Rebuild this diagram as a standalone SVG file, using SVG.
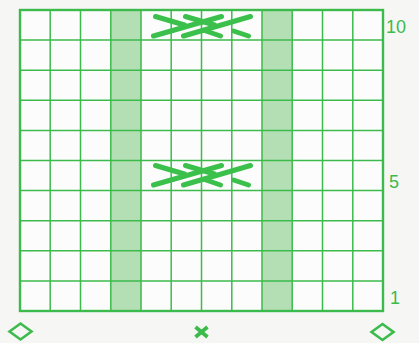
<svg xmlns="http://www.w3.org/2000/svg" width="419" height="343" viewBox="0 0 419 343">
<style>
.g{stroke:#3cbb4c;fill:none}
.in{stroke-width:1.5}
.sh{fill:#b4dfb4;stroke:none}
.cab{stroke:#3cc04c;stroke-width:5;stroke-linecap:round;fill:none}
.lbl{font-family:"Liberation Sans",Arial,sans-serif;font-size:18px;fill:#3cbb4c}
.sym{stroke:#3cbb4c;fill:none;stroke-width:2.6}
</style>
<defs>
<g id="cable">
<line class="cab" x1="-48" y1="9.5" x2="20" y2="-10"/>
<line class="cab" x1="-18" y1="9.5" x2="49" y2="-10"/>
<line class="cab" x1="-46" y1="-10" x2="-17" y2="-1.5"/>
<line class="cab" x1="-16" y1="-10" x2="13" y2="-1.5"/>
<line class="cab" x1="3" y1="4" x2="19" y2="9.5"/>
<line class="cab" x1="32" y1="4.5" x2="47" y2="9.5"/>
</g>
</defs>
<rect width="419" height="343" fill="#f6f7f5"/>
<g id="grid">
<rect x="20" y="10" width="363" height="301" fill="#fbfcfb"/>
<rect class="sh" x="111" y="10" width="30.2" height="301"/>
<rect class="sh" x="262" y="10" width="30.2" height="301"/>
<g class="g in">
<path d="M50.2 10V311M80.5 10V311M110.8 10V311M141 10V311M171.2 10V311M201.5 10V311M231.8 10V311M262 10V311M292.2 10V311M322.5 10V311M352.8 10V311"/>
<path d="M20 40.1H383M20 70.2H383M20 100.3H383M20 130.4H383M20 160.5H383M20 190.6H383M20 220.7H383M20 250.8H383M20 280.9H383"/>
</g>
<rect class="g" x="20" y="10" width="363" height="301" stroke-width="2.4"/>
</g>
<g id="cable10"><use href="#cable" transform="translate(201.5,26.5)"/></g>
<g id="cable5"><use href="#cable" transform="translate(201.5,175.5)"/></g>
<g id="labels">
<text class="lbl" x="386" y="33">10</text>
<text class="lbl" x="389" y="188">5</text>
<text class="lbl" x="390" y="304">1</text>
</g>
<g id="legend">
<path class="sym" d="M9.5 331.5L20.5 323.5L31.5 331.5L20.5 339.5Z"/>
<path class="sym" d="M371.5 332L382.5 324L393.5 332L382.5 340Z"/>
<path d="M195.5 327L207.5 337M207.5 327L195.5 337" stroke="#3cbb4c" stroke-width="3.8" fill="none"/>
</g>
</svg>
